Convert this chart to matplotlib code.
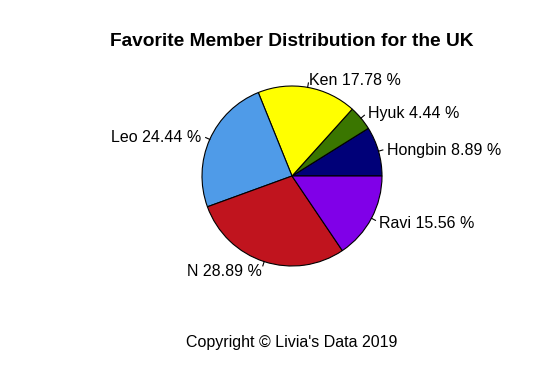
import numpy as np
import matplotlib.pyplot as plt

plt.rcParams["font.family"] = ["Liberation Sans", "DejaVu Sans"]

# >>>>>>>>>>>>>> data
members = ["Hongbin", "Hyuk", "Ken", "Leo", "N", "Ravi"]
votes = [4, 2, 8, 11, 13, 7]
colors = ["#000078", "#3a7600", "#ffff00", "#4f9be8", "#c0141e", "#8000e8"]
title = "Favorite Member Distribution for the UK"
caption = "Copyright \u00a9 Livia's Data 2019"

pct = 100 * np.array(votes) / np.sum(votes)
labels = ["%s %.2f %%" % (m, p) for m, p in zip(members, pct)]

# >>>>>>>>>>>>>> plotting
fig = plt.figure(figsize=(5.45, 3.71), dpi=100)
ax = fig.add_axes([0, 0, 1, 1])
cx, cy, r = 292, 195, 90
dy = -1.5  # small downward nudge of text to match R's placement

wedges, _ = ax.pie(votes, colors=colors, startangle=0, counterclock=True,
                   center=(cx, cy), radius=r, frame=True,
                   wedgeprops=dict(edgecolor="black", linewidth=0.8))

for w, lab in zip(wedges, labels):
    ang = np.deg2rad(0.5 * (w.theta1 + w.theta2))
    c, s = np.cos(ang), np.sin(ang)
    ax.plot([cx + r * c, cx + 1.05 * r * c], [cy + r * s, cy + 1.05 * r * s],
            color="black", linewidth=0.8)
    ax.text(cx + 1.1 * r * c, cy + 1.1 * r * s + dy, lab, fontsize=11.5,
            ha="left" if c > 0 else "right", va="center")

ax.text(292, 371 - 40 + dy, title, fontsize=13.8, fontweight="bold",
        ha="center", va="center")
ax.text(292, 371 - 341 + dy, caption, fontsize=11.5, ha="center", va="center")

ax.set_xlim(0, 545)
ax.set_ylim(0, 371)
ax.set_aspect("equal")
ax.axis("off")

fig.savefig("out.png", dpi=100)
